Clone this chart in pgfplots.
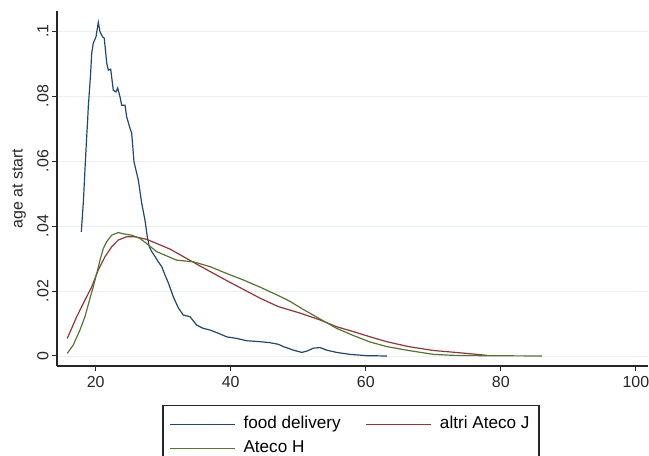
\documentclass[border=0pt]{standalone}
\usepackage{fontspec}
\setmainfont{Liberation Sans}
\usepackage{pgfplots}
\pgfplotsset{compat=1.18}
\definecolor{navy}{RGB}{30,72,112}
\definecolor{maroon}{RGB}{144,53,59}
\definecolor{fgreen}{RGB}{85,117,47}
\definecolor{gridc}{RGB}{232,240,242}
\begin{document}
\begin{tikzpicture}
\begin{axis}[
  at={(57bp,90bp)}, anchor=south west,
  width=591bp, height=355bp, scale only axis,
  xmin=14.27, xmax=101.8, ymin=-0.00308, ymax=0.1062,
  axis lines=left, axis line style={-, line width=1.3bp, black!85},
  xtick={20,40,60,80,100}, ytick={0,0.02,0.04,0.06,0.08,0.1},
  yticklabels={0,.02,.04,.06,.08,.1},
  scaled y ticks=false,
  /pgf/number format/assume math mode=true,
  tick align=outside, major tick length=5bp,
  tick style={line width=1bp, black!85},
  ymajorgrids, grid style={gridc, line width=0.9bp},
  ticklabel style={font=\fontsize{16}{18}\selectfont, text=black!85},
  xticklabel style={yshift=-2bp},
  yticklabel style={rotate=90, anchor=south, xshift=0bp},
  ylabel={age at start},
  ylabel style={at={(axis description cs:-0.064,0.5)}, anchor=center, font=\fontsize{16}{18}\selectfont, text=black!85},
  legend columns=2,
  legend cell align=left,
  legend style={at={(axis description cs:0.1794,-0.1118)}, anchor=north west,
    draw=none, inner xsep=6bp, inner ysep=6.2bp,
    font=\fontsize{17.2}{19}\selectfont,
    /tikz/every even column/.append style={column sep=17bp},
    nodes={inner xsep=8bp, inner ysep=4.4bp, text height=12bp, text depth=3.5bp}},
  legend image code/.code={\draw[#1, line width=1.3bp] (0bp,0bp) -- (65bp,0bp);},
]
\addplot[navy, line width=1.2bp] table {
x y
17.87 0.0382
18.19 0.0480
18.41 0.0572
18.64 0.0665
18.81 0.0726
18.90 0.0766
19.05 0.0809
19.26 0.0874
19.41 0.0932
19.64 0.0963
20.04 0.0982
20.39 0.1027
20.64 0.0998
21.04 0.0982
21.27 0.0978
21.63 0.0902
21.87 0.0880
22.22 0.0883
22.61 0.0818
23.01 0.0813
23.26 0.0825
23.60 0.0798
23.85 0.0772
24.34 0.0772
24.59 0.0736
25.08 0.0701
25.33 0.0686
25.67 0.0598
26.31 0.0542
26.81 0.0471
27.30 0.0418
27.64 0.0367
27.94 0.0336
28.34 0.0320
28.79 0.0306
29.27 0.0290
29.78 0.0275
30.27 0.0249
30.76 0.0225
31.50 0.0182
32.24 0.0148
32.98 0.0126
33.97 0.0121
34.96 0.0095
35.94 0.0085
36.93 0.0080
38.16 0.0070
39.41 0.0059
40.89 0.0054
42.37 0.0047
44.34 0.0044
45.82 0.0041
47.05 0.0036
47.79 0.0029
49.27 0.0018
50.52 0.0011
51.26 0.0015
52.24 0.0024
53.23 0.0026
54.22 0.0018
55.70 0.0011
57.67 0.0005
60.15 0.0001
63.11 0.0000
};
\addlegendentry{food delivery}
\addplot[maroon, line width=1.2bp] table {
x y
15.79 0.0054
17.19 0.0121
18.41 0.0172
19.41 0.0213
20.39 0.0265
21.38 0.0306
22.37 0.0336
23.35 0.0357
24.59 0.0367
25.82 0.0367
27.56 0.0359
29.53 0.0342
31.01 0.0329
35.45 0.0277
39.41 0.0232
44.34 0.0178
47.05 0.0152
50.27 0.0132
53.23 0.0111
55.70 0.0090
58.16 0.0075
60.64 0.0059
63.11 0.0044
66.31 0.0029
70.01 0.0017
74.96 0.0008
77.93 0.0002
};
\addlegendentry{altri Ateco J}
\addplot[fgreen, line width=1.2bp] table {
x y
15.79 0.0008
16.68 0.0034
17.67 0.0080
18.41 0.0121
19.16 0.0178
19.64 0.0213
20.15 0.0254
20.64 0.0295
21.13 0.0331
21.63 0.0352
22.37 0.0372
23.35 0.0380
24.34 0.0375
25.33 0.0372
26.56 0.0362
27.79 0.0342
29.04 0.0321
30.52 0.0308
32.00 0.0295
34.46 0.0290
36.93 0.0275
39.41 0.0254
41.87 0.0234
44.34 0.0212
47.05 0.0186
48.79 0.0168
50.76 0.0143
53.23 0.0114
55.70 0.0085
58.16 0.0063
60.64 0.0043
63.11 0.0029
66.31 0.0017
70.01 0.0005
72.98 0.0002
76.93 0.0001
86.07 0.0000
};
\addlegendentry{Ateco H}
\end{axis}
\draw[black!85, line width=1.2bp] (163bp,50.3bp) rectangle (539bp,-20bp);
\pgfresetboundingbox
\path[use as bounding box] (0,0) rectangle (649bp,456bp);
\end{tikzpicture}
\end{document}
